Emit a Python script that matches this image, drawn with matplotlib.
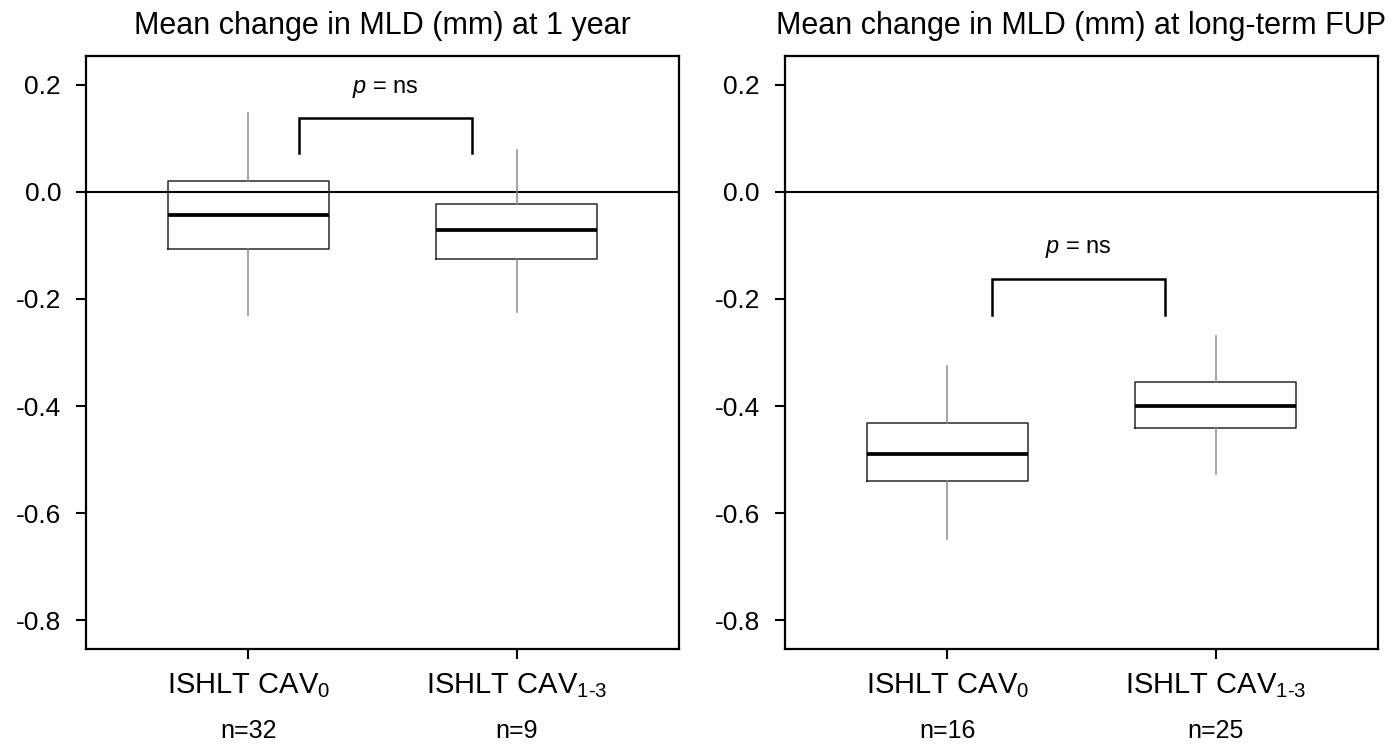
import matplotlib
matplotlib.use("Agg")
import matplotlib.pyplot as plt
from matplotlib.ticker import FixedLocator, FormatStrFormatter

plt.rcParams['font.family'] = ['Liberation Sans', 'DejaVu Sans']
plt.rcParams['mathtext.fontset'] = 'custom'
plt.rcParams['mathtext.rm'] = 'Liberation Sans'
plt.rcParams['mathtext.it'] = 'Liberation Sans:italic'
plt.rcParams['axes.unicode_minus'] = False

# ---------------- data ----------------
titles = ["Mean change in MLD (mm) at 1 year",
          "Mean change in MLD (mm) at long-term FUP"]
categories = ["ISHLT CAV$_\\mathregular{0}$", "ISHLT CAV$_\\text{1-3}$"]
n_labels_1yr = ["n=32", "n=9"]
n_labels_fup = ["n=16", "n=25"]

whislo_1yr = [-0.230, -0.224]
q1_1yr = [-0.106, -0.1245]
med_1yr = [-0.0436, -0.072]
q3_1yr = [0.0213, -0.0217]
whishi_1yr = [0.148, 0.078]

whislo_fup = [-0.649, -0.527]
q1_fup = [-0.541, -0.4417]
med_fup = [-0.489, -0.400]
q3_fup = [-0.432, -0.3546]
whishi_fup = [-0.325, -0.2686]

# significance brackets: x (left, right), y (leg bottom, top)
bracket_x_1yr = [1.19, 1.835]
bracket_y_1yr = [0.072, 0.138]
bracket_x_fup = [1.167, 1.813]
bracket_y_fup = [-0.230, -0.163]
ptext_1yr = (1.51, 0.192)
ptext_fup = (1.49, -0.1065)
ptext = "$p$ = ns"

yticks = [0.2, 0.0, -0.2, -0.4, -0.6, -0.8]

# ---------------- figure ----------------
fig = plt.figure(figsize=(14, 7.44), dpi=100)
ax1 = fig.add_axes([86 / 1400, 95 / 744, 593 / 1400, 593 / 744])
ax2 = fig.add_axes([785 / 1400, 95 / 744, 593 / 1400, 593 / 744])

panels = [
    (ax1, titles[0], n_labels_1yr, whislo_1yr, q1_1yr, med_1yr, q3_1yr, whishi_1yr,
     bracket_x_1yr, bracket_y_1yr, ptext_1yr),
    (ax2, titles[1], n_labels_fup, whislo_fup, q1_fup, med_fup, q3_fup, whishi_fup,
     bracket_x_fup, bracket_y_fup, ptext_fup),
]

positions = [1, 2]
for (ax, title, nlab, wlo, q1, med, q3, whi, bx, by, pt) in panels:
    stats = []
    for i in range(2):
        stats.append(dict(whislo=wlo[i], q1=q1[i], med=med[i], q3=q3[i],
                          whishi=whi[i], fliers=[]))
    ax.axhline(0.0, color='black', lw=1.5, zorder=1)
    ax.bxp(stats, positions=positions, widths=0.6, showcaps=False,
           showfliers=False, patch_artist=False,
           boxprops=dict(color='#2a2a2a', lw=1.1),
           whiskerprops=dict(color='#8a8a8a', lw=1.1),
           medianprops=dict(color='black', lw=2.7), zorder=2)
    ax.plot([bx[0], bx[0], bx[1], bx[1]], [by[0], by[1], by[1], by[0]],
            color='black', lw=1.8, solid_joinstyle='miter', zorder=3)
    ax.text(pt[0], pt[1], ptext, ha='center', va='center', fontsize=17)

    ax.set_xlim(0.395, 2.605)
    ax.set_ylim(-0.854, 0.254)
    ax.yaxis.set_major_locator(FixedLocator(yticks))
    ax.yaxis.set_major_formatter(FormatStrFormatter('%.1f'))
    ax.set_xticks(positions)
    ax.set_xticklabels(categories, fontsize=21)
    ax.tick_params(axis='y', labelsize=19, length=7, width=1.5, pad=11,
                   direction='out')
    ax.tick_params(axis='x', length=7, width=1.5, pad=9, direction='out')
    for s in ax.spines.values():
        s.set_linewidth(1.6)
        s.set_color('black')
    ax.set_title(title, fontsize=22, pad=16)
    for i, lab in enumerate(nlab):
        ax.annotate(lab, xy=(positions[i], 0), xycoords=('data', 'axes fraction'),
                    xytext=(0, -59), textcoords='offset points',
                    ha='center', va='center', fontsize=18)

fig.savefig("out.png", dpi=100)
